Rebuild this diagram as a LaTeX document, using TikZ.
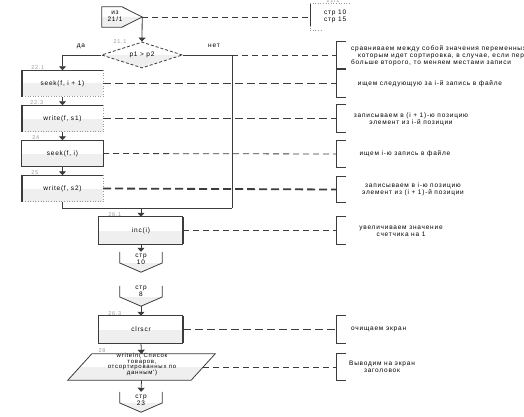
\documentclass[tikz,border=0pt]{standalone}
\usepackage{fontspec}
\setmainfont{Liberation Sans}
\newfontfamily\dfont[LetterSpace=12]{Liberation Sans}
\usetikzlibrary{shapes.geometric,arrows.meta,calc,backgrounds}
\definecolor{ln}{HTML}{3C3C3C}
\definecolor{bx}{HTML}{EFEFEF}
\definecolor{lbl}{HTML}{9A9A9A}
\begin{document}
\begin{tikzpicture}[x=1pt,y=-1pt,
  font=\dfont\fontsize{6.5}{7}\selectfont,
  lnx/.style={draw=ln, line width=0.8pt},
  arr/.style={lnx, -{Triangle[width=7pt,length=4pt]}},
  dthin/.style={draw=ln, line width=0.8pt, dash pattern=on 6pt off 4pt},
  dthick/.style={draw=ln, line width=1.8pt, dash pattern=on 8pt off 4pt},
  dotl/.style={draw=lbl, line width=0.6pt, dotted},
  halfgray/.style={path picture={\fill[bx] (path picture bounding box.west) rectangle (path picture bounding box.south east);}},
  procL/.style={rectangle, inner sep=0pt, minimum width=81pt, minimum height=26pt, fill=white, halfgray},
  procR/.style={rectangle, inner sep=0pt, minimum width=84pt, minimum height=27pt, fill=white, halfgray},
  shp/.style={rectangle, inner sep=0pt},
  brk/.style={rectangle, inner sep=0pt, minimum width=10pt, anchor=west},
  lab/.style={text=lbl, font=\dfont\fontsize{5.5}{6}\selectfont, inner sep=0.5pt, anchor=south},
  cmnt/.style={align=center, inner sep=0pt},
  txt/.style={align=center, inner sep=0pt}
]
\useasboundingbox (0,0) rectangle (524,417);

% ---------- entry connector ----------
\node[shp, minimum width=40pt, minimum height=20pt] (entry) at (122,17) {};
\node[txt] (entryt) at (115,16) {из\\21/1};

% ---------- decision ----------
\node[diamond, aspect=3.1, minimum width=81pt, minimum height=26pt, inner sep=0pt,
      draw=ln, line width=0.8pt, dash pattern=on 3pt off 2pt, fill=white, halfgray] (cond) at (142,55) {p1 > p2};
\node[lab] (lc) at (120,44) {21.1};
\node[txt] (yes) at (81,46) {да};
\node[txt] (no) at (214,46) {нет};

% ---------- left column ----------
\node[procL] (b1) at (62.5,83.5) {seek(f, i + 1)};
\node[procL] (b2) at (62.5,118.5) {write(f, s1)};
\node[procL] (b3) at (62.5,153.5) {seek(f, i)};
\node[procL] (b4) at (62.5,188.5) {write(f, s2)};
\node[lab] (l1) at ($(b1.north west)+(16,0)$) {22.1};
\node[lab] (l2) at ($(b2.north west)+(15,0)$) {22.3};
\node[lab] (l3) at ($(b3.north west)+(14,0)$) {24};
\node[lab] (l4) at ($(b4.north west)+(13,0)$) {25};

% ---------- middle column ----------
\node[procR] (b5) at (141,230.5) {inc(i)};
\node[lab] (l5) at ($(b5.north west)+(16,0)$) {26.1};
\node[shp, minimum width=42pt, minimum height=20pt] (c1) at (141,262) {};
\node[txt] (c1t) at (141,259.5) {стр\\10};
\node[shp, minimum width=42pt, minimum height=20pt] (c2) at (141,296) {};
\node[txt] (c2t) at (141,291.5) {стр\\8};
\node[procR] (b6) at (141,329.5) {clrscr};
\node[lab] (l6) at ($(b6.north west)+(16,0)$) {26.3};
\node[shp, minimum width=123pt, minimum height=26pt] (p) at (141.5,367) {};
\node[txt, font=\dfont\fontsize{6}{5.8}\selectfont] (pt) at (142,364.5) {writeln('Список\\товаров,\\отсортированных по\\данным')};
\node[lab] (l7) at (102,353) {28};
\node[shp, minimum width=42pt, minimum height=20pt] (c3) at (141,402) {};
\node[txt] (c3t) at (141,400) {стр\\23};

% ---------- shapes drawn by path ----------
\begin{scope}[on background layer]
  \fill[white] (entry.north west) -- (entry.north) -- (entry.east) -- (entry.south) -- (entry.south west) -- cycle;
  \fill[bx] (entry.west) -- (entry.east) -- (entry.south) -- (entry.south west) -- cycle;
  \foreach \c in {c1,c2,c3}{
    \fill[white] (\c.north west) -- ($(\c.west)+(0,1)$) -- (\c.south) -- ($(\c.east)+(0,1)$) -- (\c.north east) -- cycle;
    \fill[bx] ($(\c.west)+(0,1)$) -- (\c.south) -- ($(\c.east)+(0,1)$) -- cycle;
  }
  \fill[white] ($(p.north west)+(12,0)$) -- ($(p.north east)+(12,0)$) -- ($(p.south east)+(-12,0)$) -- ($(p.south west)+(-12,0)$) -- cycle;
  \fill[bx] (p.west) -- (p.east) -- ($(p.south east)+(-12,0)$) -- ($(p.south west)+(-12,0)$) -- cycle;
\end{scope}
\draw[lnx] (entry.north west) -- (entry.north) -- (entry.east) -- (entry.south) -- (entry.south west) -- cycle;
\foreach \c in {c1,c2,c3}{
  \draw[lnx] (\c.north west) -- ($(\c.west)+(0,1)$) -- (\c.south) -- ($(\c.east)+(0,1)$) -- (\c.north east);
}
\draw[lnx] ($(p.north west)+(12,0)$) -- ($(p.north east)+(12,0)$) -- ($(p.south east)+(-12,0)$) -- ($(p.south west)+(-12,0)$) -- cycle;

% box borders
\foreach \b in {b1,b2,b4}{
  \draw[lnx] (\b.north west) -- (\b.north east);
  \draw[dotl] (\b.north east) -- (\b.south east) -- (\b.south west);
  \draw[draw=ln, line width=1.8pt] (\b.north west) -- (\b.south west);
}
\draw[lnx] (b3.north west) rectangle (b3.south east);
\foreach \b in {b5,b6}{
  \draw[lnx] (\b.north east) -- (\b.north west) -- (\b.south west) -- (\b.south east);
  \draw[draw=ln, line width=1.8pt] (\b.north east) -- (\b.south east);
}

% ---------- comments ----------
\node[brk, minimum height=27pt] (k0) at (310,17) {};
\draw[lnx] (k0.north west) -- ($(k0.south west)+(0,-5)$);
\draw[dotl] ($(k0.south west)+(0,-5)$) -- (k0.south west) -- ++(12,0);
\draw[dotl] (k0.north west) -- ++(40,0);
\node[lab] (lk0) at (333,3.5) {21/1};
\node[align=left, inner sep=0pt, anchor=west] (t0) at (324,16.5) {стр 10\\стр 15};

\node[brk, minimum height=26pt] (k1) at (336,55) {};
\node[brk, minimum height=27pt] (k2) at (336,83.5) {};
\node[brk, minimum height=27pt] (k3) at (336,118.5) {};
\node[brk, minimum height=26pt] (k4) at (336,154) {};
\node[brk, minimum height=26pt] (k5) at (336,189.5) {};
\node[brk, minimum height=27pt] (k6) at (336,230.5) {};
\node[brk, minimum height=27pt] (k7) at (336,329.5) {};
\node[brk, minimum height=26pt] (k8) at (336,367) {};
\foreach \k in {k1,k2,k3,k4,k5,k6,k7,k8}{
  \draw[lnx] (\k.north east) -- (\k.north west) -- (\k.south west) -- (\k.south east);
}

\node[align=left, inner sep=0pt, anchor=north west] (t1) at (351,45)
  {сравниваем между собой значения переменных, по\\
   \hspace{7pt}которым идет сортировка, в случае, если первое\\
   больше второго, то меняем местами записи};
\node[cmnt] (t2) at (430,83.5) {ищем следующую за i-й запись в файле};
\node[cmnt] (t3) at (411,119) {записываем в (i + 1)-ю позицию\\элемент из i-й позиции};
\node[cmnt] (t4) at (405,153.5) {ищем i-ю запись в файле};
\node[cmnt] (t5) at (413,189) {записываем в i-ю позицию\\элемент из (i + 1)-й позиции};
\node[cmnt] (t6) at (401,231) {увеличиваем значение\\счетчика на 1};
\node[cmnt, anchor=west] (t7) at (351,329.5) {очищаем экран};
\node[cmnt] (t8) at (382,366.5) {Выводим на экран\\заголовок};

% ---------- connectors ----------
\coordinate (j) at (232,55);
\coordinate (m) at (232,208);
\coordinate (mg) at (141,208);
\draw[arr] (entry.east) -- (cond.north);
\draw[dthin] (entry.east) -- (k0.west);
\draw[arr] (cond.west) -| (b1.north);
\draw[lnx] (cond.east) -- (j) -- (m);
\draw[dthin] (j) -- (k1.west);
\draw[arr] (b1.south) -- (b2.north);
\draw[arr] (b2.south) -- (b3.north);
\draw[arr] (b3.south) -- (b4.north);
\draw[lnx] (b4.south) |- (m);
\draw[arr] (mg) -- (b5.north);
\draw[arr] (b5.south) -- (c1.north);
\draw[arr] (c2.south) -- (b6.north);
\draw[arr] (b6.south) -- (p.north);
\draw[arr] (p.south) -- (c3.north);

\draw[dthick] (b1.east) -- (k2.west);
\draw[dthick] (b2.east) -- (k3.west);
\draw[dthin] (b3.east) -- (k4.west);
\draw[dthick] (b4.east) -- (k5.west);
\draw[dthin] (b5.east) -- (k6.west);
\draw[dthick] (b6.east) -- (k7.west);
\draw[dthin] (p.east) -- (k8.west);
\end{tikzpicture}
\end{document}
